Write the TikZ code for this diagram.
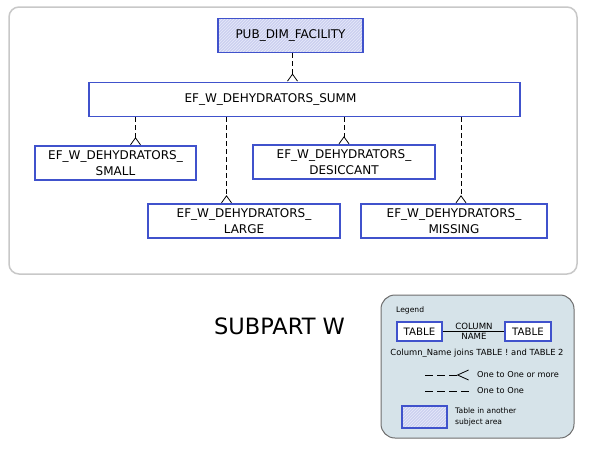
\documentclass[tikz,border=0pt]{standalone}
\usepackage{fontspec}
\setmainfont{DejaVu Sans}
\usetikzlibrary{arrows.meta,patterns}
\definecolor{boxblue}{RGB}{64,82,204}
\definecolor{framegray}{RGB}{200,200,200}
\definecolor{hatchfill}{RGB}{204,208,240}
\definecolor{hatchline}{RGB}{232,234,250}
\definecolor{legendfill}{RGB}{214,227,233}
\definecolor{legendline}{RGB}{110,110,110}
\begin{document}
\begin{tikzpicture}[x=1pt, y=-1pt,
  tbl/.style={draw=boxblue, line width=1.5pt, fill=white, inner sep=0pt,
    minimum height=34pt, align=center, font=\fontsize{12}{15.5}\selectfont},
  other/.style={tbl, preaction={fill=hatchfill}, fill=none,
    pattern=north east lines, pattern color=hatchline},
  crow/.style={-{Straight Barb[reversed, length=#1, width=10pt, line width=0.8pt]}},
  crow/.default=7pt,
  rel/.style={line width=0.8pt, dash pattern=on 5pt off 3pt, crow},
  legrel/.style={line width=0.8pt, dash pattern=on 8pt off 4pt},
  legtext/.style={font=\fontsize{8.2}{9.5}\selectfont, inner sep=0pt}]
  \useasboundingbox (0,0) rectangle (590,451);
  \draw [framegray, line width=1.5pt, rounded corners=10pt] (9,7) rectangle (577,274);

  % tables
  \node [other, minimum width=145pt] (pub) at (290.5,35.5) {PUB\_DIM\_FACILITY};
  \node [tbl, minimum width=431pt,
    label={[xshift=-34pt, font=\fontsize{12}{15.5}\selectfont]center:EF\_W\_DEHYDRATORS\_SUMM}]
    (summ) at (304.5,99.3) {};
  \node [tbl, minimum width=161pt] (small) at (115.5,163) {EF\_W\_DEHYDRATORS\_\\SMALL};
  \node [tbl, minimum width=182pt] (desiccant) at (344,162) {EF\_W\_DEHYDRATORS\_\\DESICCANT};
  \node [tbl, minimum width=192pt] (large) at (244,221) {EF\_W\_DEHYDRATORS\_\\LARGE};
  \node [tbl, minimum width=186pt] (missing) at (454,221) {EF\_W\_DEHYDRATORS\_\\MISSING};

  % join columns
  \coordinate (xpub) at (292.5,0);
  \coordinate (xsmall) at (135.5,0);
  \coordinate (xlarge) at (226.5,0);
  \coordinate (xdesiccant) at (344,0);
  \coordinate (xmissing) at (461,0);
  \draw [rel] (pub.south -| xpub) -- (summ.north -| xpub);
  \draw [rel] (summ.south -| xsmall) -- (small.north -| xsmall);
  \draw [rel] (summ.south -| xlarge) -- (large.north -| xlarge);
  \draw [rel] (summ.south -| xdesiccant) -- (desiccant.north -| xdesiccant);
  \draw [rel] (summ.south -| xmissing) -- (missing.north -| xmissing);

  \node [font=\fontsize{22.5}{26}\selectfont] (title) at (279.5,326) {SUBPART W};

  % legend
  \draw [legendline, fill=legendfill, line width=1pt, rounded corners=14pt] (381,295) rectangle (574,438);
  \node [legtext, font=\fontsize{7.6}{9}\selectfont, anchor=west] (legend) at (396,310) {Legend};
  \node [tbl, minimum width=45pt, minimum height=19pt, font=\fontsize{10.2}{12}\selectfont] (tbla) at (419.5,331.5) {TABLE};
  \node [tbl, minimum width=46pt, minimum height=19pt, font=\fontsize{10.2}{12}\selectfont] (tblb) at (528,331.5) {TABLE};
  \draw [line width=0.8pt] (tbla.east) -- (tblb.west);
  \node [legtext, font=\fontsize{8.6}{10}\selectfont, anchor=south] (colname) at (474,329.5) {COLUMN};
  \node [legtext, font=\fontsize{8.6}{10}\selectfont, anchor=north] (colname2) at (474,333) {NAME};
  \node [legtext, font=\fontsize{8.4}{10}\selectfont] (joins) at (477,353) {Column\_Name joins TABLE ! and TABLE 2};
  \node [legtext, anchor=west] (lmany) at (477,375) {One to One or more};
  \node [legtext, anchor=west] (lone) at (477,391) {One to One};
  \draw [legrel, crow=11pt] ([xshift=-52pt]lmany.west) -- ([xshift=-8pt]lmany.west);
  \draw [legrel] ([xshift=-52pt]lone.west) -- ([xshift=-8pt]lone.west);
  \node [other, minimum width=45pt, minimum height=22pt] (lother) at (424.5,417) {};
  \node [legtext, font=\fontsize{7.6}{10.5}\selectfont, anchor=west, align=left] (lothertext) at (455,417) {Table in another\\subject area};
\end{tikzpicture}
\end{document}
